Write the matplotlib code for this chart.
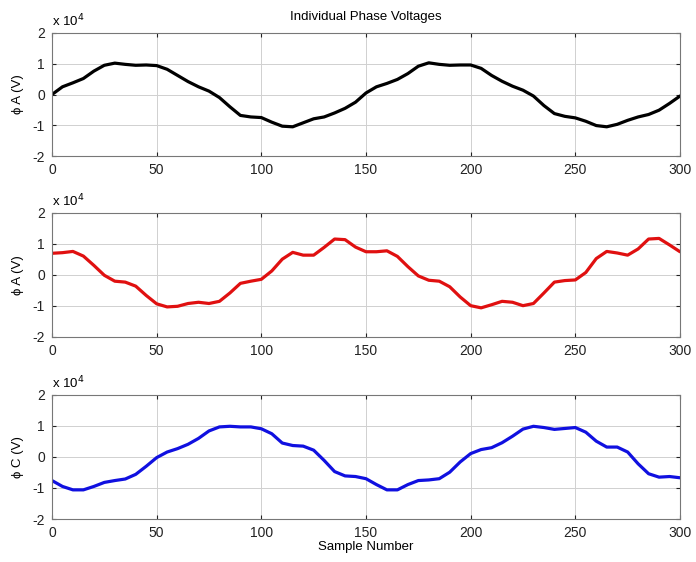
import numpy as np
import matplotlib
matplotlib.use("Agg")
from matplotlib import pyplot as plt
from matplotlib.ticker import FuncFormatter

plt.rcParams['font.family'] = ['Liberation Sans', 'DejaVu Sans']
plt.rcParams['axes.unicode_minus'] = False

# Sample numbers (every 5th sample)
samples = np.arange(0, 301, 5)

# Phase voltages in units of 1e4 V
phase_a = [0.0, 0.25, 0.38, 0.52, 0.76, 0.95, 1.02, 0.98, 0.95, 0.96,
           0.94, 0.82, 0.62, 0.42, 0.25, 0.11, -0.1, -0.4, -0.68, -0.73,
           -0.75, -0.9, -1.03, -1.05, -0.92, -0.79, -0.73, -0.6, -0.45, -0.25,
           0.05, 0.25, 0.36, 0.49, 0.68, 0.92, 1.03, 0.98, 0.95, 0.96,
           0.96, 0.85, 0.62, 0.43, 0.27, 0.14, -0.05, -0.36, -0.62, -0.71,
           -0.76, -0.87, -1.01, -1.05, -0.97, -0.84, -0.73, -0.65, -0.51, -0.29,
           -0.05]
phase_b = [0.7, 0.72, 0.76, 0.61, 0.31, -0.01, -0.2, -0.23, -0.36, -0.66,
           -0.93, -1.03, -1.01, -0.92, -0.88, -0.92, -0.85, -0.58, -0.27, -0.2,
           -0.14, 0.13, 0.51, 0.73, 0.64, 0.64, 0.89, 1.16, 1.14, 0.9,
           0.75, 0.75, 0.78, 0.6, 0.27, -0.03, -0.17, -0.2, -0.38, -0.71,
           -0.99, -1.06, -0.96, -0.85, -0.88, -0.99, -0.92, -0.58, -0.23, -0.18,
           -0.16, 0.08, 0.53, 0.76, 0.71, 0.64, 0.84, 1.16, 1.18, 0.97,
           0.75]
phase_c = [-0.76, -0.95, -1.06, -1.06, -0.95, -0.82, -0.76, -0.71, -0.56, -0.3,
           -0.02, 0.16, 0.27, 0.41, 0.6, 0.84, 0.97, 0.99, 0.97, 0.97,
           0.91, 0.75, 0.45, 0.37, 0.35, 0.22, -0.11, -0.47, -0.61, -0.63,
           -0.7, -0.89, -1.06, -1.06, -0.89, -0.76, -0.74, -0.7, -0.49, -0.16,
           0.11, 0.24, 0.3, 0.46, 0.67, 0.9, 0.99, 0.95, 0.89, 0.92,
           0.95, 0.8, 0.51, 0.32, 0.32, 0.16, -0.22, -0.54, -0.65, -0.63,
           -0.67]

series = [phase_a, phase_b, phase_c]
colors = ['black', '#e01010', '#1010e0']
ylabels = ['\u03d5 A (V)', '\u03d5 A (V)', '\u03d5 C (V)']
yticks = [-2, -1, 0, 1, 2]
xticks = [0, 50, 100, 150, 200, 250, 300]

fig = plt.figure(figsize=(6.96, 5.62), dpi=100)
# axes boxes: left, bottom, width, height
boxes = [[0.0747, 0.7224, 0.9023, 0.2189],
         [0.0747, 0.4004, 0.9023, 0.2206],
         [0.0747, 0.0765, 0.9023, 0.2207]]

for i in range(3):
    ax = fig.add_axes(boxes[i])
    volts = np.array(series[i]) * 1e4
    ax.plot(samples, volts, color=colors[i], linewidth=2.3,
            solid_joinstyle='round', solid_capstyle='round')
    ax.set_xlim(0, 300)
    ax.set_ylim(-2e4, 2e4)
    ax.set_xticks(xticks)
    ax.set_yticks([t * 1e4 for t in yticks])
    ax.yaxis.set_major_formatter(FuncFormatter(lambda v, p: '%g' % (v / 1e4)))
    ax.grid(True, color='#d0d0d0', linewidth=0.7)
    ax.tick_params(direction='in', length=3, labelsize=10, colors='#222222',
                   top=True, right=True, pad=5)
    for s in ax.spines.values():
        s.set_color('#777777')
        s.set_linewidth(0.8)
    ax.set_ylabel(ylabels[i], fontsize=9.5, labelpad=6)
    ax.text(0.0, 1.03, r'x 10$^{4}$', transform=ax.transAxes, fontsize=9.5,
            ha='left', va='bottom')
    if i == 0:
        ax.set_title('Individual Phase Voltages', fontsize=9.5, pad=9)
    if i == 2:
        ax.set_xlabel('Sample Number', fontsize=9.5, labelpad=1)

fig.savefig('out.png', dpi=100)
